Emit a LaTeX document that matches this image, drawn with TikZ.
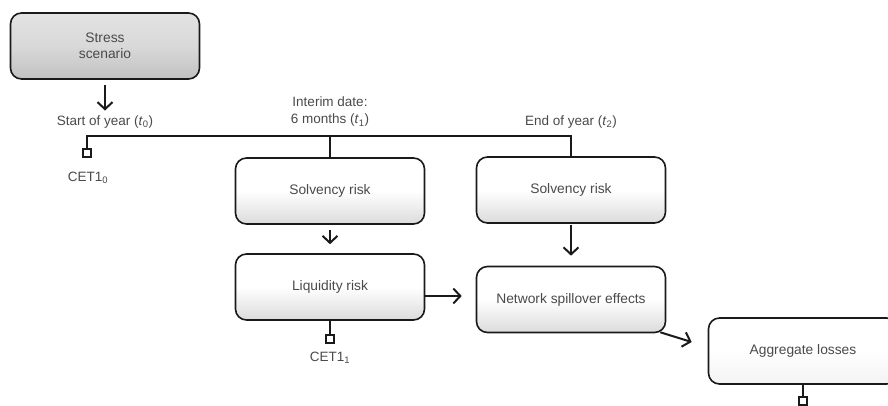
\documentclass[tikz,border=0pt]{standalone}
\usepackage{fontspec}
\setmainfont{Liberation Sans}
\usetikzlibrary{arrows.meta}
\definecolor{txt}{HTML}{4A4A4A}
\definecolor{ln}{HTML}{1A1A1A}
\tikzset{
  box/.style={draw=ln, line width=1.6pt, rounded corners=11pt, minimum width=189pt, minimum height=66pt, inner sep=0pt,
    top color=white, bottom color=black!14, middle color=white, text=txt, font=\fontsize{13.8}{16}\selectfont},
  greybox/.style={box, top color=black!11, bottom color=black!24, middle color=black!15},
  plainbox/.style={box, top color=white, bottom color=black!5, middle color=white},
  lbl/.style={text=txt, font=\fontsize{13.5}{17}\selectfont, inner sep=0pt, align=center},
  conn/.style={draw=ln, line width=2pt},
  arr/.style={conn, -{Straight Barb[length=7pt,width=15pt,line width=2pt]}},
  sq/.style={draw=ln, line width=1.8pt, fill=white, minimum size=8pt, inner sep=0pt}
}
\begin{document}
\begin{tikzpicture}[x=1pt,y=-1pt]
\useasboundingbox (0,0) rectangle (888,405);
\fill[white] (0,0) rectangle (888,405);
% boxes
\node[greybox, align=center] (stress) at (105,46) {Stress\\scenario};
\node[box] (solv1) at (330,191) {Solvency risk};
\node[box] (solv2) at (571,190) {Solvency risk};
\node[box] (liq) at (330,287) {Liquidity risk};
\node[box] (net) at (571,299.5) {Network spillover effects};
\node[plainbox] (agg) at (803,351) {Aggregate losses};
% labels
\node[lbl] (start) at (105,122) {Start of year (\textit{t}\textsubscript{0})};
\node[lbl] (interim) at (330,112) {Interim date:\\6 months (\textit{t}\textsubscript{1})};
\node[lbl] (end) at (571,122) {End of year (\textit{t}\textsubscript{2})};
\node[lbl] (c0) at (88,178) {CET1\textsubscript{0}};
\node[lbl] (c1) at (330,358) {CET1\textsubscript{1}};
% squares
\node[sq] (sq0) at (87,153) {};
\node[sq] (sq1) at (330,339) {};
\node[sq] (sq2) at (803,401) {};
\coordinate (bar) at (0,136);
% timeline
\draw[conn] (sq0.north) |- (solv2.north |- bar) -- (solv2.north);
\draw[conn] (solv1.north |- bar) -- (solv1.north);
% arrows
\draw[arr, shorten <=5pt] (stress.south) -- ([yshift=5pt]stress.south |- start.north);
\draw[arr, shorten <=5pt] (solv1.south) -- ([yshift=9pt]liq.north);
\draw[arr, shorten <=1pt] (solv2.south) -- ([yshift=10pt]net.north);
\draw[arr] (liq.east |- 0,296) -- ([xshift=-14pt]net.west |- 0,296);
\draw[arr] ([xshift=-6pt,yshift=1pt]net.south east) -- ([xshift=-16pt,yshift=9pt]agg.west);
% CET1 connectors
\draw[conn] (liq.south) -- (sq1.north);
\draw[conn] (agg.south) -- (sq2.north);
\end{tikzpicture}
\end{document}
